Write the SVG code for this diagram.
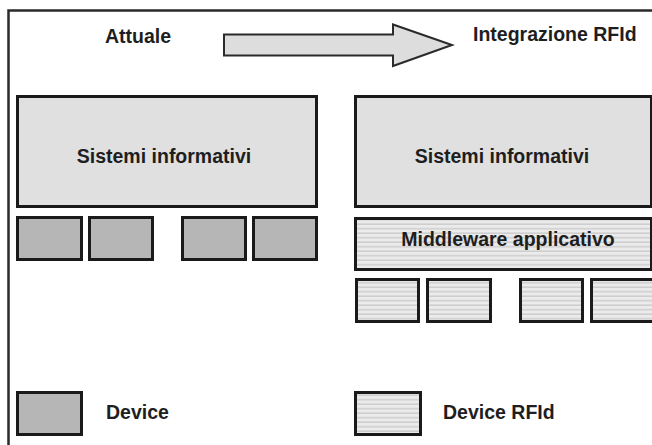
<svg xmlns="http://www.w3.org/2000/svg" width="652" height="445" viewBox="0 0 652 445">
<defs>
<pattern id="stripes" x="0" y="0" width="8" height="4.5" patternUnits="userSpaceOnUse">
<rect width="8" height="4.5" fill="#ebebeb"/>
<rect y="3" width="8" height="1.5" fill="#cdcdcd"/>
</pattern>
</defs>
<style>
.box{stroke:#1a1a1a;stroke-width:3}
.sys{fill:#e0e0e0}
.dev{fill:#b6b6b6}
.rfid{fill:url(#stripes)}
text{font-family:"Liberation Sans",Arial,sans-serif;font-weight:bold;font-size:19.5px;fill:#1e1e1e}
.mid{text-anchor:middle}
</style>
<rect width="652" height="445" fill="#ffffff"/>
<g id="frame">
<path d="M8.5 445 V10.5 H652" fill="none" stroke="#2a2a2a" stroke-width="2.5"/>
</g>
<g id="title-attuale"><text x="105" y="43">Attuale</text></g>
<g id="title-rfid"><text x="473" y="41">Integrazione RFId</text></g>
<g id="connectors">
<path d="M224 34.5 H393 V24.5 L452 45 L393 66 V55.5 H224 Z" fill="#dddddd" stroke="#2a2a2a" stroke-width="2"/>
</g>
<g id="left-sistemi">
<rect class="box sys" x="17.5" y="96.5" width="299" height="110"/>
<text class="mid" x="164" y="163">Sistemi informativi</text>
</g>
<g id="left-device-1"><rect class="box dev" x="17.5" y="217.5" width="64" height="42"/></g>
<g id="left-device-2"><rect class="box dev" x="89.5" y="217.5" width="63" height="42"/></g>
<g id="left-device-3"><rect class="box dev" x="182.5" y="217.5" width="63" height="42"/></g>
<g id="left-device-4"><rect class="box dev" x="253.5" y="217.5" width="63" height="42"/></g>
<g id="right-sistemi">
<rect class="box sys" x="355.5" y="96.5" width="296" height="110"/>
<text class="mid" x="502" y="163">Sistemi informativi</text>
</g>
<g id="right-middleware">
<rect class="box rfid" x="355.5" y="218.5" width="296" height="51"/>
<text class="mid" x="508" y="246">Middleware applicativo</text>
</g>
<g id="right-device-1"><rect class="box rfid" x="356.5" y="279.5" width="62" height="42"/></g>
<g id="right-device-2"><rect class="box rfid" x="427.5" y="279.5" width="63" height="42"/></g>
<g id="right-device-3"><rect class="box rfid" x="520.5" y="279.5" width="62" height="42"/></g>
<g id="right-device-4"><rect class="box rfid" x="591.5" y="279.5" width="62" height="42"/></g>
<g id="legend-device">
<rect class="box dev" x="17.5" y="392.5" width="64" height="42"/>
<text x="106" y="419">Device</text>
</g>
<g id="legend-rfid">
<rect class="box rfid" x="355.5" y="392.5" width="65" height="42"/>
<text x="443" y="419">Device RFId</text>
</g>
</svg>
